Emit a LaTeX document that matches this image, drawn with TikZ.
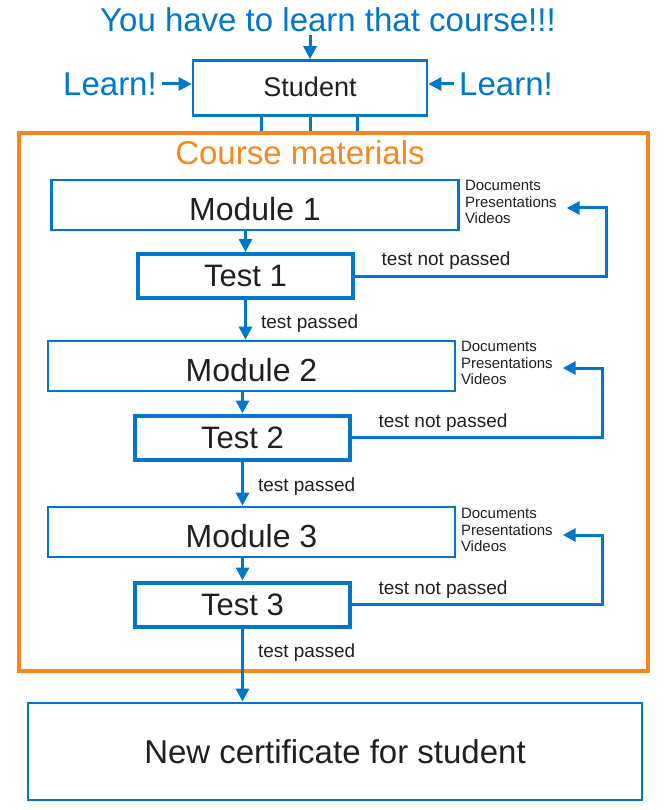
\documentclass[tikz,border=0pt]{standalone}
\usepackage{fontspec}
\setmainfont{Liberation Sans}
\usetikzlibrary{arrows.meta}
\definecolor{lineblue}{RGB}{0,119,200}
\definecolor{frameorange}{RGB}{247,134,30}
\definecolor{textgray}{RGB}{35,31,32}
\tikzset{
  arr/.style={draw=lineblue,line width=3pt,-{Triangle[length=13pt,width=13pt]}},
  bluebox/.style={draw=lineblue,line width=2.7pt,inner sep=0pt,text=textgray},
  modulebox/.style={bluebox,minimum width=407pt,minimum height=50pt,text height=31pt,text depth=0pt,font=\fontsize{32}{38}\selectfont},
  testbox/.style={bluebox,line width=4pt,minimum width=215pt,minimum height=44pt,font=\fontsize{31}{36}\selectfont},
  shout/.style={text=lineblue,inner sep=0pt,font=\fontsize{33}{38}\selectfont},
  passlabel/.style={text=textgray,inner sep=0pt,font=\fontsize{19}{22}\selectfont},
  docslist/.style={text=textgray,align=left,inner sep=0pt,outer xsep=10pt,font=\fontsize{15}{16.5}\selectfont}
}
\begin{document}
\begin{tikzpicture}[x=1pt,y=-1pt]
\useasboundingbox (0,0) rectangle (665,810);
% top
\node[shout,font=\fontsize{33}{38}\selectfont,inner sep=3pt] (title) at (328,20) {You have to learn that course!!!};
\node[bluebox,minimum width=234pt,minimum height=55pt,text depth=3pt,font=\fontsize{27}{30}\selectfont] (student) at (310,88) {Student};
\node[shout,inner sep=5pt] (learnL) at (110,84) {Learn!};
\node[shout,inner sep=5pt] (learnR) at (506,84) {Learn!};
\draw[arr] (student.north |- title.south) -- (student.north);
\draw[arr] (learnL.east) -- (learnL.east -| student.west);
\draw[arr] (learnR.west) -- (learnR.west -| student.east);
% course frame
\node[draw=frameorange,line width=3.2pt,minimum width=629pt,minimum height=538pt,inner sep=0pt] (course) at (333.5,402) {};
\node[text=frameorange,inner sep=0pt,font=\fontsize{33}{38}\selectfont] (coursetitle) at (300,153) {Course materials};
\foreach \dx in {-49,0,47}
  \draw[lineblue,line width=3pt] ([xshift=\dx pt]student.south) -- ([xshift=\dx pt]student.south |- course.north);
% modules and tests
\node[modulebox] (module1) at (255,205) {Module 1};
\node[testbox] (test1) at (245.5,276) {Test 1};
\node[modulebox] (module2) at (251.5,366) {Module 2};
\node[testbox] (test2) at (242.5,437.5) {Test 2};
\node[modulebox] (module3) at (251.5,532) {Module 3};
\node[testbox] (test3) at (242.5,604.5) {Test 3};
\node[docslist,anchor=west] (docs1) at (455,202) {Documents\\Presentations\\Videos};
\node[docslist,anchor=west] (docs2) at (451,363) {Documents\\Presentations\\Videos};
\node[docslist,anchor=west] (docs3) at (451,530) {Documents\\Presentations\\Videos};
\node[bluebox,minimum width=614pt,minimum height=97pt,font=\fontsize{33}{38}\selectfont] (certificate) at (335,751.5) {New certificate for student};
% arrows
\draw[arr] (test1.north |- module1.south) -- (test1.north);
\draw[arr] (test2.north |- module2.south) -- (test2.north);
\draw[arr] (test3.north |- module3.south) -- (test3.north);
\draw[arr] (test1.south) -- node[passlabel,pos=0.6,right,xshift=14pt] {test passed} (test1.south |- module2.north);
\draw[arr] (test2.south) -- node[passlabel,pos=0.57,right,xshift=14pt] {test passed} (test2.south |- module3.north);
\draw[arr] (test3.south) -- node[passlabel,pos=0.33,right,xshift=14pt] {test passed} (test3.south |- certificate.north);
\draw[arr] (test1.east) -| node[passlabel,pos=0.05,above right,yshift=5pt] {test not passed} ([xshift=40pt,yshift=-6pt]docs1.east) -- ([yshift=-6pt]docs1.east);
\draw[arr] (test2.east) -| node[passlabel,pos=0.05,above right,yshift=5pt] {test not passed} ([xshift=40pt,yshift=-5pt]docs2.east) -- ([yshift=-5pt]docs2.east);
\draw[arr] (test3.east) -| node[passlabel,pos=0.05,above right,yshift=5pt] {test not passed} ([xshift=40pt,yshift=-5pt]docs3.east) -- ([yshift=-5pt]docs3.east);
\end{tikzpicture}
\end{document}
